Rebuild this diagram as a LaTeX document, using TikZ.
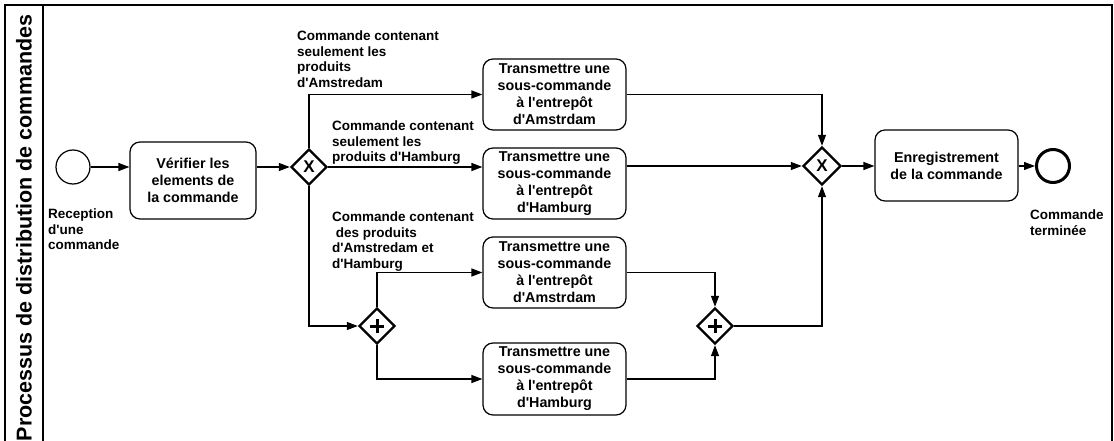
\documentclass[tikz,border=0pt]{standalone}
\usepackage{fontspec}
\setmainfont{Liberation Sans}[Ligatures=TeXOff]
\usetikzlibrary{shapes.geometric,arrows.meta}
\begin{document}
\begin{tikzpicture}[x=1pt,y=-1pt,
  flow/.style={line width=1.2pt,-{Triangle[length=11pt,width=8pt]}},
  task/.style={draw,line width=1.2pt,rounded corners=10pt,align=center,font=\bfseries\fontsize{14.3}{17}\selectfont,inner sep=2pt},
  gw/.style={draw,diamond,line width=2.4pt,minimum width=36pt,minimum height=36pt,inner sep=0pt,font=\bfseries\fontsize{17}{17}\selectfont},
  lbl/.style={anchor=north west,inner sep=0pt,align=left,font=\bfseries\fontsize{13.5}{15.4}\selectfont},
  plusmark/.style={line width=3pt},
]
\useasboundingbox (0,0) rectangle (1114,441);
\clip (0,0) rectangle (1114,441);
% pool frame
\draw[line width=1.3pt] (5,460) -- (5,5) -- (1112,5) -- (1112,460);
\draw[line width=1.3pt] (43,5) -- (43,460);
\node[rotate=90,font=\bfseries\fontsize{21.5}{21.5}\selectfont] (title) at (24,228) {Processus de distribution de commandes};
% events
\node[circle,draw,line width=1.2pt,minimum size=34pt,inner sep=0pt] (start) at (73,167) {};
\node[lbl] (startlbl) at (48,209) {Reception\\d'une\\commande};
\node[circle,draw,line width=3pt,minimum size=33pt,inner sep=0pt] (end) at (1053,166) {};
\node[lbl] (endlbl) at (1030,210) {Commande\\terminée};
% tasks
\node[task,minimum width=126pt,minimum height=77pt] (verif) at (193,180.5) {Vérifier les\\elements de\\la commande};
\node[task,minimum width=143pt,minimum height=71pt] (t1) at (554.5,94.5) {Transmettre une\\sous-commande\\à l'entrepôt\\d'Amstrdam};
\node[task,minimum width=143pt,minimum height=71pt] (t2) at (554.5,183.5) {Transmettre une\\sous-commande\\à l'entrepôt\\d'Hamburg};
\node[task,minimum width=143pt,minimum height=71pt] (t3) at (554.5,272.5) {Transmettre une\\sous-commande\\à l'entrepôt\\d'Amstrdam};
\node[task,minimum width=143pt,minimum height=72pt] (t4) at (554.5,379) {Transmettre une\\sous-commande\\à l'entrepôt\\d'Hamburg};
\node[task,minimum width=143pt,minimum height=71pt] (enreg) at (946.5,165.5) {Enregistrement\\de la commande};
% gateways
\node[gw] (x1) at (309,167) {X};
\node[gw,minimum width=38pt,minimum height=38pt] (x2) at (822,166) {X};
\node[gw] (p1) at (377,326) {};
\node[gw] (p2) at (715,326) {};
\draw[plusmark] ([xshift=-7pt]p1.center) -- ([xshift=7pt]p1.center);
\draw[plusmark] ([yshift=-7pt]p1.center) -- ([yshift=7pt]p1.center);
\draw[plusmark] ([xshift=-7pt]p2.center) -- ([xshift=7pt]p2.center);
\draw[plusmark] ([yshift=-7pt]p2.center) -- ([yshift=7pt]p2.center);
% labels
\node[lbl] (l1) at (297,31) {Commande contenant\\seulement les\\produits\\d'Amstredam};
\node[lbl] (l2) at (332,121) {Commande contenant\\seulement les\\produits d'Hamburg};
\node[lbl] (l3) at (332,212) {Commande contenant\\\ des produits\\d'Amstredam et\\d'Hamburg};
% flows
\draw[flow] (start.east) -- (verif.west |- start.east);
\draw[flow] (verif.east |- x1) -- (x1.west);
\draw[flow] (x1.north) |- (t1.west);
\draw[flow] (x1.east) -- (t2.west |- x1.east);
\draw[flow] (x1.south) |- (p1.west);
\draw[flow] (p1.north) |- (t3.west);
\draw[flow] (p1.south) |- (t4.west);
\draw[flow] (t3.east) -| (p2.north);
\draw[flow] (t4.east) -| (p2.south);
\draw[flow] (p2.east) -| (x2.south);
\draw[flow] (t1.east) -| (x2.north);
\draw[flow] (t2.east |- x2.west) -- (x2.west);
\draw[flow] (x2.east) -- (enreg.west |- x2.east);
\draw[flow] (enreg.east |- end) -- (end.west);
\end{tikzpicture}
\end{document}
